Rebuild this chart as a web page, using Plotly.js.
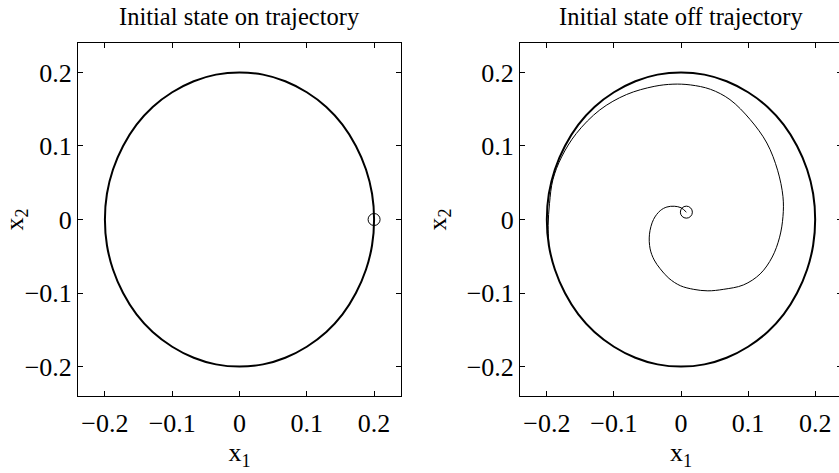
<!DOCTYPE html>
<html>
<head>
<meta charset="utf-8">
<script src="https://cdn.plot.ly/plotly-3.0.1.min.js"></script>
<style>
html,body{margin:0;padding:0;overflow:hidden;background:#fff;width:839px;height:473px;}
#chart{position:absolute;left:0;top:0;}
</style>
</head>
<body>
<div id="chart"></div>
<script>
// Tick values / labels
const tickVals = [-0.2, -0.1, 0, 0.1, 0.2];
const tickText = ["\u22120.2", "\u22120.1", "0", "0.1", "0.2"];
const titles = ["Initial state on trajectory", "Initial state off trajectory"];

// Left panel: trajectory starting on the limit cycle
const onX = [0.2,0.197,0.188,0.173,0.153,0.129,0.1,0.068,0.035,0,-0.035,-0.068,-0.1,-0.129,-0.153,-0.173,-0.188,-0.197,-0.2,-0.197,-0.188,-0.173,-0.153,-0.129,-0.1,-0.068,-0.035,0,0.035,0.068,0.1,0.129,0.153,0.173,0.188,0.197,0.2];
const onY = [0,0.035,0.068,0.1,0.129,0.153,0.173,0.188,0.197,0.2,0.197,0.188,0.173,0.153,0.129,0.1,0.068,0.035,0,-0.035,-0.068,-0.1,-0.129,-0.153,-0.173,-0.188,-0.197,-0.2,-0.197,-0.188,-0.173,-0.153,-0.129,-0.1,-0.068,-0.035,0];
const onStartX = [0.2];
const onStartY = [0];

// Right panel: trajectory starting off the limit cycle (transient spiral)
const offSpiralX = [0.008,0.000,-0.010,-0.021,-0.031,-0.041,-0.047,-0.046,-0.040,-0.031,-0.018,-0.001,0.019,0.040,0.063,0.093,0.118,0.136,0.147,0.152,0.152,0.144,0.128,0.103,0.073,0.044,0.014,-0.012,-0.040,-0.081,-0.121,-0.156,-0.178,-0.191,-0.196,-0.198,-0.197];
const offSpiralY = [0.010,0.016,0.018,0.017,0.012,0.000,-0.020,-0.040,-0.055,-0.067,-0.080,-0.090,-0.095,-0.097,-0.095,-0.089,-0.074,-0.051,-0.024,0.004,0.031,0.067,0.104,0.136,0.163,0.177,0.183,0.184,0.181,0.170,0.149,0.117,0.085,0.054,0.022,-0.008,-0.035];
// Right panel: settled limit cycle
const offCycleX = [-0.197,-0.188,-0.173,-0.153,-0.129,-0.1,-0.068,-0.035,0,0.035,0.068,0.1,0.129,0.153,0.173,0.188,0.197,0.2,0.197,0.188,0.173,0.153,0.129,0.1,0.068,0.035,0,-0.035,-0.068,-0.1,-0.129,-0.153,-0.173,-0.188,-0.197,-0.2,-0.197];
const offCycleY = [-0.035,-0.068,-0.1,-0.129,-0.153,-0.173,-0.188,-0.197,-0.2,-0.197,-0.188,-0.173,-0.153,-0.129,-0.1,-0.068,-0.035,0,0.035,0.068,0.1,0.129,0.153,0.173,0.188,0.197,0.2,0.197,0.188,0.173,0.153,0.129,0.1,0.068,0.035,0,-0.035];
const offStartX = [0.008];
const offStartY = [0.010];

const FONT = "'Liberation Serif', 'Times New Roman', Times, serif";
const W = 844, H = 473;
const mL = 78, mR = 2, mT = 43, mB = 77;
const pw = W - mL - mR;
const leftDom = [0, (401 - mL) / pw];
const rightDom = [(520 - mL) / pw, 1];

function lineTrace(x, y, xa, ya, w) {
  return {x: x, y: y, xaxis: xa, yaxis: ya, type: "scatter", mode: "lines",
    line: {color: "#000", width: w, shape: "spline", smoothing: 1}, hoverinfo: "skip"};
}
function markTrace(x, y, xa, ya) {
  return {x: x, y: y, xaxis: xa, yaxis: ya, type: "scatter", mode: "markers",
    marker: {symbol: "circle-open", size: 12, color: "#000", line: {width: 1, color: "#000"}}, hoverinfo: "skip"};
}

const data = [
  lineTrace(onX, onY, "x", "y", 2),
  markTrace(onStartX, onStartY, "x", "y"),
  lineTrace(offSpiralX, offSpiralY, "x2", "y2", 1),
  lineTrace(offCycleX, offCycleY, "x2", "y2", 2),
  markTrace(offStartX, offStartY, "x2", "y2")
];

function axis(dom, anchor, isY, titleText) {
  return {
    domain: dom, anchor: anchor, range: [-0.24, 0.24],
    tickmode: "array", tickvals: tickVals, ticktext: tickText,
    ticks: "inside", ticklen: 5, tickwidth: 1, tickcolor: "#000",
    showline: true, linecolor: "#000", linewidth: 1, mirror: "ticks",
    showgrid: false, zeroline: false,
    tickfont: {family: FONT, size: 26, color: "#000"},
    ticklabelstandoff: isY ? 0 : 4,
    title: {text: titleText, font: {family: FONT, size: 26, color: "#000"}, standoff: isY ? 12 : 4},
    fixedrange: true
  };
}

const layout = {
  width: W, height: H,
  margin: {l: mL, r: mR, t: mT, b: mB},
  paper_bgcolor: "#fff", plot_bgcolor: "#fff",
  showlegend: false,
  xaxis: axis(leftDom, "y", false, "x<sub>1</sub>"),
  yaxis: axis([0, 1], "x", true, "x<sub>2</sub>"),
  xaxis2: axis(rightDom, "y2", false, "x<sub>1</sub>"),
  yaxis2: axis([0, 1], "x2", true, "x<sub>2</sub>"),
  annotations: [
    {text: titles[0], xref: "paper", yref: "paper", x: (leftDom[0] + leftDom[1]) / 2, y: 1,
     xanchor: "center", yanchor: "bottom", yshift: 11, showarrow: false,
     font: {family: FONT, size: 24.5, color: "#000"}},
    {text: titles[1], xref: "paper", yref: "paper", x: (rightDom[0] + rightDom[1]) / 2, y: 1,
     xanchor: "center", yanchor: "bottom", yshift: 11, showarrow: false,
     font: {family: FONT, size: 24.5, color: "#000"}}
  ]
};

Plotly.newPlot("chart", data, layout, {staticPlot: true, displayModeBar: false});
</script>
</body>
</html>
